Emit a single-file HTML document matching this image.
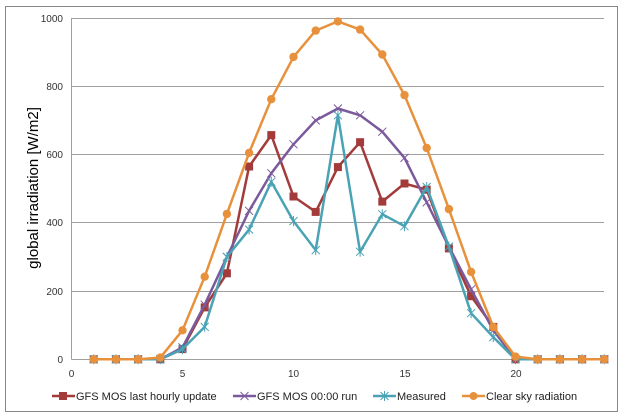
<!DOCTYPE html>
<html><head><meta charset="utf-8"><style>body{margin:0;background:#fff}svg{display:block}</style></head><body>
<svg width="628" height="418" xmlns="http://www.w3.org/2000/svg" font-family="Liberation Sans, sans-serif">
<defs>
<marker id="sq" markerUnits="userSpaceOnUse" markerWidth="10" markerHeight="10" refX="5" refY="5" overflow="visible"><rect x="1" y="1" width="8" height="8" fill="#a33b3b"/></marker>
<marker id="ci" markerUnits="userSpaceOnUse" markerWidth="10" markerHeight="10" refX="5" refY="5" overflow="visible"><circle cx="5" cy="5" r="4.2" fill="#e8913d"/></marker>
<marker id="xp" markerUnits="userSpaceOnUse" markerWidth="10" markerHeight="10" refX="5" refY="5" overflow="visible"><path d="M1 1L9 9M1 9L9 1" stroke="#7b5a9c" stroke-width="1"/></marker>
<marker id="xt" markerUnits="userSpaceOnUse" markerWidth="10" markerHeight="10" refX="5" refY="5" overflow="visible"><path d="M1 1L9 9M1 9L9 1M5 0L5 10" stroke="#4aa3b5" stroke-width="1"/></marker>
</defs>
<rect x="0" y="0" width="628" height="418" fill="#fff"/>
<rect x="5.5" y="6.5" width="612" height="405" fill="none" stroke="#888" stroke-width="1"/>
<g stroke="#a0a0a0" stroke-width="1">
<line x1="71.5" y1="18.5" x2="604" y2="18.5"/>
<line x1="71.5" y1="86.5" x2="604" y2="86.5"/>
<line x1="71.5" y1="154.5" x2="604" y2="154.5"/>
<line x1="71.5" y1="222.5" x2="604" y2="222.5"/>
<line x1="71.5" y1="291.5" x2="604" y2="291.5"/>
<line x1="71.5" y1="359.5" x2="604" y2="359.5"/>
<line x1="71.5" y1="18" x2="71.5" y2="359.5"/>
</g>
<g font-size="10" fill="#333" text-anchor="end">
<text x="63" y="22">1000</text><text x="63" y="90">800</text><text x="63" y="158">600</text>
<text x="63" y="226">400</text><text x="63" y="295">200</text><text x="63" y="363">0</text>
</g>
<g font-size="10" fill="#333" text-anchor="middle">
<text x="71.5" y="377">0</text><text x="182.5" y="377">5</text><text x="293.5" y="377">10</text>
<text x="405" y="377">15</text><text x="516" y="377">20</text>
</g>
<text transform="translate(38,188) rotate(-90)" font-size="15" text-anchor="middle" fill="#000">global irradiation [W/m2]</text>
<g fill="none" stroke-width="2.5" stroke-linejoin="round">
<polyline stroke="#a33b3b" marker-start="url(#sq)" marker-mid="url(#sq)" marker-end="url(#sq)" points="93.7,359.3 115.9,359.3 138.1,359.3 160.3,359.3 182.5,349.1 204.7,307.4 226.9,273.3 249.1,166.5 271.3,135.1 293.5,196.5 315.7,211.9 337.9,167.1 360.1,142.2 382.3,201.6 404.5,183.5 426.7,189.7 448.9,248.4 471.1,296.2 493.3,326.9 515.5,359.3 537.7,359.3 559.9,359.3 582.1,359.3 604.3,359.3"/>
<polyline stroke="#7b5a9c" marker-start="url(#xp)" marker-mid="url(#xp)" marker-end="url(#xp)" points="93.7,359.3 115.9,359.3 138.1,359.3 160.3,359.3 182.5,347.4 204.7,304.7 226.9,256.9 249.1,210.8 271.3,173.3 293.5,144.3 315.7,120.4 337.9,108.5 360.1,115.3 382.3,131.7 404.5,157.9 426.7,202.3 448.9,246.7 471.1,289.3 493.3,330.3 515.5,359.3 537.7,359.3 559.9,359.3 582.1,359.3 604.3,359.3"/>
<polyline stroke="#4aa3b5" marker-start="url(#xt)" marker-mid="url(#xt)" marker-end="url(#xt)" points="93.7,359.3 115.9,359.3 138.1,359.3 160.3,359.3 182.5,349.1 204.7,326.9 226.9,256.9 249.1,229.6 271.3,181.8 293.5,221.1 315.7,250.1 337.9,115.3 360.1,251.8 382.3,214.2 404.5,226.2 426.7,187.0 448.9,246.7 471.1,313.2 493.3,337.1 515.5,359.3 537.7,359.3 559.9,359.3 582.1,359.3 604.3,359.3"/>
<polyline stroke="#e8913d" marker-start="url(#ci)" marker-mid="url(#ci)" marker-end="url(#ci)" points="93.7,359.3 115.9,359.3 138.1,359.3 160.3,357.6 182.5,330.3 204.7,276.7 226.9,213.9 249.1,152.8 271.3,99.2 293.5,56.9 315.7,30.6 337.9,21.4 360.1,29.6 382.3,54.5 404.5,95.1 426.7,148.0 448.9,209.1 471.1,271.9 493.3,326.9 515.5,356.6 537.7,359.3 559.9,359.3 582.1,359.3 604.3,359.3"/>
</g>
<g font-size="11" fill="#222">
<line x1="52" y1="396" x2="75" y2="396" stroke="#a33b3b" stroke-width="2.5"/><rect x="59" y="392" width="8" height="8" fill="#a33b3b"/>
<text x="76" y="400">GFS MOS last hourly update</text>
<line x1="233" y1="396" x2="256" y2="396" stroke="#7b5a9c" stroke-width="2.5"/><path d="M240.5 392L248.5 400M240.5 400L248.5 392" stroke="#7b5a9c"/><text x="257" y="400">GFS MOS 00:00 run</text>
<line x1="373" y1="396" x2="396" y2="396" stroke="#4aa3b5" stroke-width="2.5"/><path d="M380.5 392L388.5 400M380.5 400L388.5 392M384.5 391L384.5 401" stroke="#4aa3b5"/><text x="397" y="400">Measured</text>
<line x1="462" y1="396" x2="485" y2="396" stroke="#e8913d" stroke-width="2.5"/><circle cx="473.5" cy="396" r="4" fill="#e8913d"/><text x="486" y="400">Clear sky radiation</text>
</g>
</svg>
</body></html>
